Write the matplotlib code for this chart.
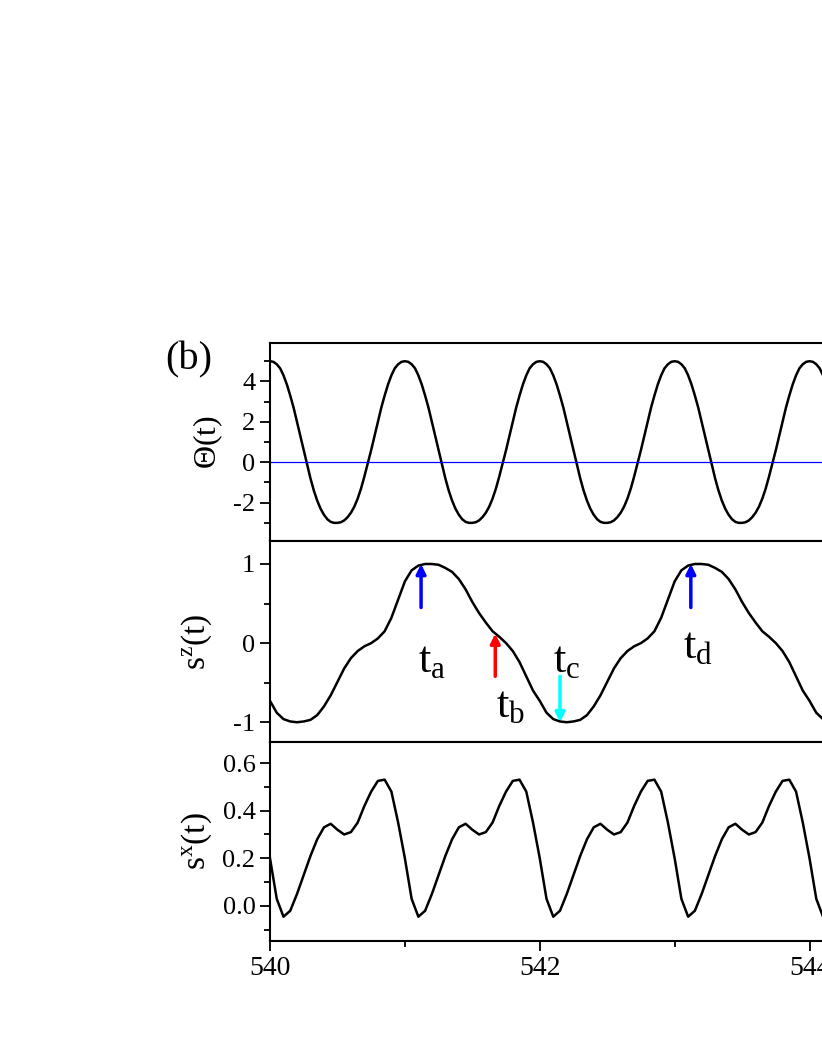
import numpy as np
import matplotlib
matplotlib.use("Agg")
import matplotlib.pyplot as plt

plt.rcParams['font.family'] = ['Liberation Serif', 'DejaVu Serif']
plt.rcParams['mathtext.fontset'] = 'custom'
plt.rcParams['mathtext.rm'] = 'Liberation Serif'
plt.rcParams['mathtext.it'] = 'Liberation Serif'

# one period of Theta(t) (period 1), sampled every 0.025
theta_period = [5.0, 4.97, 4.85, 4.65, 4.3, 3.85, 3.3, 2.7, 2.0, 1.3,
                0.6, -0.1, -0.8, -1.4, -1.9, -2.3, -2.6, -2.82, -2.95, -3.0,
                -3.0, -2.97, -2.88, -2.72, -2.5, -2.2, -1.8, -1.3, -0.7, -0.05,
                0.6, 1.3, 2.0, 2.7, 3.3, 3.85, 4.3, 4.65, 4.85, 4.97]
# one period of s^z(t) (period 2), sampled every 0.05
sz_period = [-0.73, -0.88, -0.96, -0.99, -1.0, -0.99, -0.97, -0.91, -0.80, -0.66,
             -0.49, -0.32, -0.19, -0.10, -0.04, 0.0, 0.06, 0.15, 0.32, 0.55,
             0.78, 0.92, 0.98, 1.0, 1.0, 0.99, 0.95, 0.90, 0.81, 0.68,
             0.52, 0.38, 0.26, 0.15, 0.08, 0.0, -0.10, -0.24, -0.42, -0.60]
# one period of s^x(t) (period 1), sampled every 0.05
sx_period = [0.20, 0.03, -0.045, -0.02, 0.05, 0.13, 0.21, 0.28, 0.33, 0.345,
             0.32, 0.30, 0.31, 0.35, 0.42, 0.48, 0.525, 0.53, 0.48, 0.35]

t0, tmax = 540.0, 544.4
t_th = t0 + 0.025 * np.arange(int(round((tmax - t0) / 0.025)) + 1)
t = t0 + 0.05 * np.arange(int(round((tmax - t0) / 0.05)) + 1)
theta = np.resize(theta_period, len(t_th))
sz = np.resize(sz_period, len(t))
sx = np.resize(sx_period, len(t))

# arrows: (time, start, end, colour, label, label x, label y)
arrows = [(541.12, 0.45, 1.0, 'blue', 'a', 541.2, -0.22),
          (541.67, -0.42, 0.12, 'red', 'b', 541.78, -0.8),
          (542.15, -0.42, -1.0, 'cyan', 'c', 542.2, -0.22),
          (543.12, 0.45, 1.0, 'blue', 'd', 543.17, -0.05)]

fig = plt.figure(figsize=(8.22, 10.64), dpi=100)
left, width = 270 / 822, 580 / 822
bounds = [(0.4915, 0.1861), (0.3026, 0.1889), (0.1156, 0.1870)]
axes = [fig.add_axes([left, b, width, h]) for b, h in bounds]

for ax in axes:
    ax.set_xlim(540, 544.3)
    ax.set_xticks([540, 542, 544])
    ax.set_xticks([541, 543], minor=True)
    ax.tick_params(which='both', direction='out', labelsize=19, width=1.3)
    ax.tick_params(which='major', length=7)
    ax.tick_params(which='minor', length=4)
    for s in ax.spines.values():
        s.set_linewidth(1.5)
    if ax is not axes[-1]:
        ax.tick_params(axis='x', labelbottom=False)

ax1, ax2, ax3 = axes
ax1.plot(t_th, theta, color='black', lw=1.8)
ax1.axhline(0, color='blue', lw=0.9)
ax1.set_ylim(-3.9, 5.9)
ax1.set_yticks([-2, 0, 2, 4])
ax1.set_yticks([-3, -1, 1, 3, 5], minor=True)
ax1.set_yticklabels(['-2', '0', '2', '4'])
ax1.set_ylabel(r'$\mathregular{\Theta(t)}$', fontsize=23, labelpad=6)

ax2.plot(t, sz, color='black', lw=1.8)
ax2.set_ylim(-1.25, 1.29)
ax2.set_yticks([-1, 0, 1])
ax2.set_yticks([-0.5, 0.5], minor=True)
ax2.set_yticklabels(['-1', '0', '1'])
ax2.set_ylabel(r'$\mathregular{s^z(t)}$', fontsize=24, labelpad=14)
for x, y0, y1, c, sub, lx, ly in arrows:
    ax2.annotate('', xy=(x, y1), xytext=(x, y0),
                 arrowprops=dict(arrowstyle='-|>', color=c, lw=2.5, mutation_scale=14,
                                 shrinkA=0, shrinkB=0))
    ax2.text(lx, ly, r'$\mathregular{t_%s}$' % sub, fontsize=32, ha='center', va='center')

ax3.plot(t, sx, color='black', lw=1.8)
ax3.set_ylim(-0.147, 0.688)
ax3.set_yticks([0.0, 0.2, 0.4, 0.6])
ax3.set_yticks(np.arange(-0.1, 0.69, 0.1), minor=True)
ax3.set_yticklabels(['0.0', '0.2', '0.4', '0.6'])
ax3.set_ylabel(r'$\mathregular{s^x(t)}$', fontsize=24, labelpad=6)
for lab in ax3.get_xticklabels():
    lab.set_fontsize(20)

fig.text(165 / 822, 1 - 360 / 1064, '(b)', fontsize=29, va='center')

fig.savefig('out.png', dpi=100)
